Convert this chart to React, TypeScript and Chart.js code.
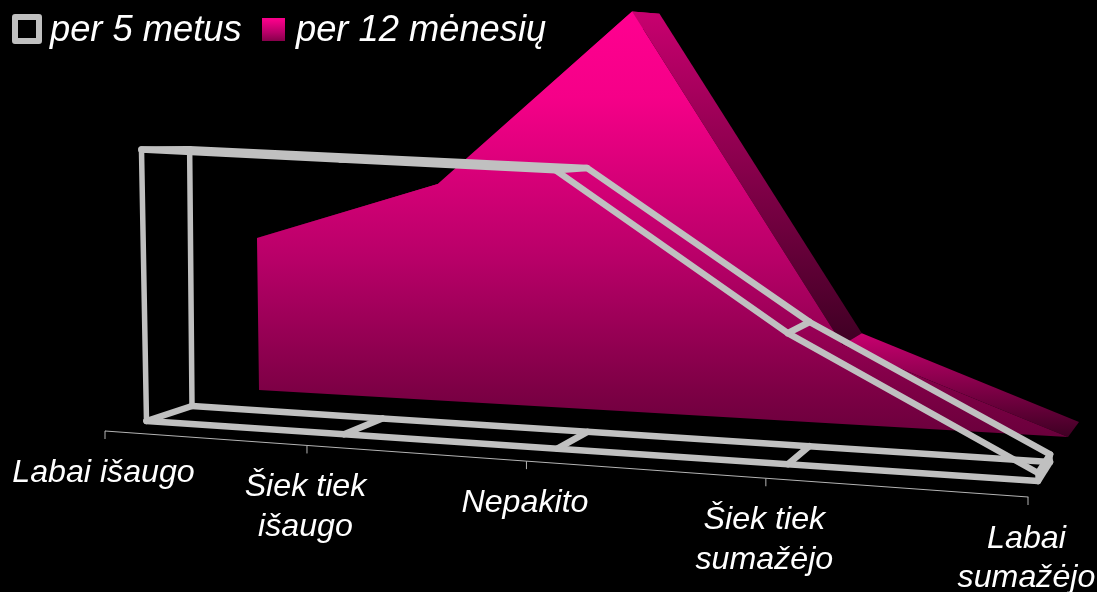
import React, { useEffect, useRef } from "react";
import { Chart, registerables } from "chart.js";

Chart.register(...registerables);

const categories = ["Labai išaugo", "Šiek tiek išaugo", "Nepakito", "Šiek tiek sumažėjo", "Labai sumažėjo"];
const categoryLines = [["Labai išaugo"], ["Šiek tiek", "išaugo"], ["Nepakito"], ["Šiek tiek", "sumažėjo"], ["Labai", "sumažėjo"]];
const seriesNames = ["per 5 metus", "per 12 mėnesių"];
const per5Metus = [29.5, 29.3, 29.1, 13.4, 0.8];
const per12Menesiu = [18.3, 25.6, 46.4, 9, 0];
const baseline = [0, 0, 0, 0, 0];
const Y_MAX = 50;

const GRAY = "#c0c0c0";
const FRAME_WIDTH = 6.5;
const POST_WIDTH = 5.5;
const W = 1097;
const H = 592;

// View of the 3D box: each depth plane of the chart, as corners of value 0 and value Y_MAX.
type Plane = { bl: number[]; br: number[]; tl: number[]; tr: number[]; k: number };
const planes: Record<string, Plane> = {
  whiteFront: { bl: [146.5, 421], br: [1038, 481], tl: [138, -39], tr: [1041, -19], k: 0.17 },
  whiteBack: { bl: [192, 406], br: [1050, 462], tl: [188, -29], tr: [1053, -13], k: 0.17 },
  pinkFront: { bl: [259, 390], br: [1068, 437], tl: [253.5, -25], tr: [1071, -13], k: 0.16 },
  pinkBack: { bl: [300, 379], br: [1079, 422], tl: [296, -16], tr: [1081, -16], k: 0.16 },
  axis: { bl: [105, 431], br: [1028, 497], tl: [105, 0], tr: [1028, 0], k: 0.19 },
};

function project(p: Plane, u: number, v: number) {
  const t = u / (1 + p.k * (1 - u));
  const bx = p.bl[0] + (p.br[0] - p.bl[0]) * t;
  const by = p.bl[1] + (p.br[1] - p.bl[1]) * t;
  const tx = p.tl[0] + (p.tr[0] - p.tl[0]) * t;
  const ty = p.tl[1] + (p.tr[1] - p.tl[1]) * t;
  return [bx + (tx - bx) * v, by + (ty - by) * v];
}

function pts(chart: any, id: string) {
  const i = chart.data.datasets.findIndex((d: any) => d.id === id);
  return chart.getDatasetMeta(i).data as { x: number; y: number }[];
}

function poly(ctx: CanvasRenderingContext2D, list: { x: number; y: number }[]) {
  ctx.beginPath();
  list.forEach((q, i) => (i ? ctx.lineTo(q.x, q.y) : ctx.moveTo(q.x, q.y)));
  ctx.closePath();
}

function frontGradient(ctx: CanvasRenderingContext2D, y0: number, y1: number) {
  const g = ctx.createLinearGradient(0, y0, 0, y1);
  g.addColorStop(0, "#ff0090");
  g.addColorStop(0.2, "#f50088");
  g.addColorStop(0.58, "#b80068");
  g.addColorStop(0.89, "#7d0045");
  g.addColorStop(1, "#6a003c");
  return g;
}

const perspective = {
  id: "perspective",
  afterDatasetsUpdate(chart: any) {
    const a = chart.chartArea;
    chart.data.datasets.forEach((ds: any, i: number) => {
      const plane = planes[ds.plane];
      chart.getDatasetMeta(i).data.forEach((pt: any) => {
        const u = (pt.x - a.left) / a.width;
        const v = (a.bottom - pt.y) / a.height;
        const [x, y] = project(plane, u, v);
        pt.x = x;
        pt.y = y;
      });
    });
  },
  beforeDatasetsDraw(chart: any) {
    const ctx: CanvasRenderingContext2D = chart.ctx;
    const front = pts(chart, "pinkFrontTop");
    const back = pts(chart, "pinkBackTop");
    const base = pts(chart, "pinkFrontBase");
    ctx.save();
    // receding faces of the pink ribbon
    for (let i = 0; i < front.length - 1; i++) {
      const quad = [front[i], back[i], back[i + 1], front[i + 1]];
      const ys = quad.map((q) => q.y);
      const g = ctx.createLinearGradient(0, Math.min(...ys), 0, Math.max(...ys));
      g.addColorStop(0, "#c8006f");
      g.addColorStop(1, "#3e0023");
      ctx.fillStyle = g;
      poly(ctx, quad);
      ctx.fill();
    }
    // front face
    ctx.fillStyle = frontGradient(ctx, 12, 437);
    poly(ctx, [...front, ...[...base].reverse()]);
    ctx.fill();
    ctx.restore();
  },
  afterDatasetsDraw(chart: any) {
    const ctx: CanvasRenderingContext2D = chart.ctx;
    const ft = pts(chart, "whiteFrontTop");
    const bt = pts(chart, "whiteBackTop");
    const fb = pts(chart, "whiteFrontBase");
    const bb = pts(chart, "whiteBackBase");
    const ax = pts(chart, "axis");
    const last = ft.length - 1;
    ctx.save();
    ctx.strokeStyle = GRAY;
    ctx.lineWidth = FRAME_WIDTH;
    ctx.lineJoin = "round";
    ctx.lineCap = "round";
    const seg = (a: any, b: any) => {
      ctx.beginPath();
      ctx.moveTo(a.x, a.y);
      ctx.lineTo(b.x, b.y);
      ctx.stroke();
    };
    ft.forEach((_, i) => {
      seg(ft[i], bt[i]);
      seg(fb[i], bb[i]);
    });
    ctx.lineWidth = POST_WIDTH;
    [0, last].forEach((i) => {
      seg(ft[i], fb[i]);
      seg(bt[i], bb[i]);
    });
    // category ticks and labels
    ctx.lineWidth = 1;
    ctx.lineCap = "butt";
    ctx.strokeStyle = "#b4b4b4";
    ax.forEach((p) => {
      seg({ x: p.x, y: p.y }, { x: p.x, y: p.y + 8 });
    });
    ctx.fillStyle = "#ffffff";
    ctx.font = 'italic 32.2px "Liberation Sans"';
    ctx.textAlign = "center";
    ctx.textBaseline = "middle";
    categoryLines.forEach((lines, i) => {
      lines.forEach((line, j) => {
        ctx.fillText(line, ax[i].x - 1.5, ax[i].y + 42 + j * 39.5);
      });
    });
    // legend
    ctx.font = 'italic 36.3px "Liberation Sans"';
    ctx.textAlign = "left";
    ctx.fillText(seriesNames[0], 50, 31);
    ctx.fillText(seriesNames[1], 296, 31);
    ctx.strokeStyle = GRAY;
    ctx.lineWidth = 6;
    ctx.strokeRect(15, 17, 24, 24);
    ctx.fillStyle = frontGradient(ctx, 14, 46);
    ctx.fillRect(262, 18, 23, 23);
    ctx.restore();
  },
};

function line(id: string, plane: string, data: number[], color: string, width: number, order: number) {
  return {
    id,
    plane,
    label: id,
    data,
    order,
    clip: false,
    fill: false,
    tension: 0,
    pointRadius: 0,
    borderColor: color,
    borderWidth: width,
    borderJoinStyle: "round" as const,
    borderCapStyle: "round" as const,
  };
}

export default function App() {
  const ref = useRef<HTMLCanvasElement>(null);
  useEffect(() => {
    document.body.style.margin = "0";
    document.body.style.background = "#000";
    const chart = new Chart(ref.current!, {
      type: "line",
      data: {
        labels: categories,
        datasets: [
          line("whiteFrontTop", "whiteFront", per5Metus, GRAY, FRAME_WIDTH, 1),
          line("whiteBackTop", "whiteBack", per5Metus, GRAY, FRAME_WIDTH, 2),
          line("whiteFrontBase", "whiteFront", baseline, GRAY, FRAME_WIDTH, 3),
          line("whiteBackBase", "whiteBack", baseline, GRAY, FRAME_WIDTH, 4),
          line("axis", "axis", baseline, "#b4b4b4", 1, 5),
          line("pinkFrontTop", "pinkFront", per12Menesiu, "transparent", 0, 6),
          line("pinkBackTop", "pinkBack", per12Menesiu, "transparent", 0, 7),
          line("pinkFrontBase", "pinkFront", baseline, "transparent", 0, 8),
        ] as any,
      },
      options: {
        animation: false,
        responsive: false,
        layout: { padding: 0 },
        plugins: { legend: { display: false }, tooltip: { enabled: false } },
        scales: {
          x: { type: "category", display: false, offset: false },
          y: { type: "linear", display: false, min: 0, max: Y_MAX },
        },
      },
      plugins: [perspective],
    });
    return () => chart.destroy();
  }, []);
  return (
    <div style={{ position: "absolute", left: 0, top: 0, width: W, height: H, background: "#000" }}>
      <canvas ref={ref} width={W} height={H} style={{ display: "block", width: W, height: H }} />
    </div>
  );
}
